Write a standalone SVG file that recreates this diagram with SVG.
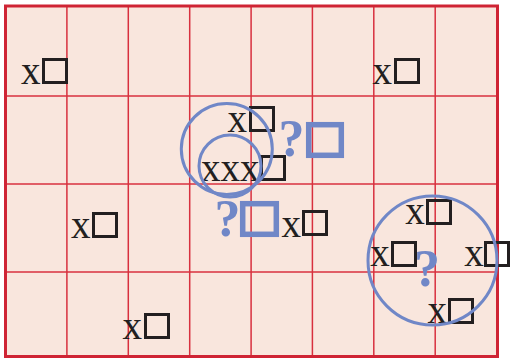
<svg xmlns="http://www.w3.org/2000/svg" width="510" height="358" viewBox="0 0 510 358">
<style>
.bg{fill:#f9e6dd}
.grid{stroke:#d8303e;stroke-width:1.5;fill:none}
.border{stroke:#cf2434;stroke-width:3;fill:none}
.x{font-family:"Liberation Serif","Times New Roman",serif;font-size:39px;fill:#231f20}
.sq{fill:none;stroke:#231f20;stroke-width:3}
.q{font-family:"Liberation Serif","Times New Roman",serif;font-size:52px;font-weight:bold;fill:#7087c7}
.bsq{fill:none;stroke:#7087c7;stroke-width:5.5}
.circ{fill:none;stroke:#7087c7;stroke-width:3}
</style>
<rect class="bg" x="5.5" y="6" width="492" height="350.5"/>
<g id="grid" class="grid">
<line x1="66.9" y1="6" x2="66.9" y2="356.5"/>
<line x1="128.3" y1="6" x2="128.3" y2="356.5"/>
<line x1="189.7" y1="6" x2="189.7" y2="356.5"/>
<line x1="251.1" y1="6" x2="251.1" y2="356.5"/>
<line x1="312.4" y1="6" x2="312.4" y2="356.5"/>
<line x1="373.8" y1="6" x2="373.8" y2="356.5"/>
<line x1="435.2" y1="6" x2="435.2" y2="356.5"/>
<line x1="5.5" y1="96" x2="497.5" y2="96"/>
<line x1="5.5" y1="184" x2="497.5" y2="184"/>
<line x1="5.5" y1="272" x2="497.5" y2="272"/>
</g>
<rect class="border" x="5.5" y="6" width="492" height="350.5"/>
<g id="n1"><text class="x" x="21" y="84">x</text><rect class="sq" x="43.5" y="59.5" width="23" height="23"/></g>
<g id="n2"><text class="x" x="372.6" y="84">x</text><rect class="sq" x="395.5" y="59.5" width="23" height="23"/></g>
<g id="n3"><text class="x" x="227.6" y="132">x</text><rect class="sq" x="250.5" y="107.5" width="23" height="23"/></g>
<g id="n4"><text class="x" x="201" y="181">xxx</text><rect class="sq" x="261.5" y="156.5" width="23" height="23"/></g>
<g id="n5"><text class="x" x="281.6" y="237">x</text><rect class="sq" x="303.5" y="211.5" width="23" height="23"/></g>
<g id="n6"><text class="x" x="71" y="238">x</text><rect class="sq" x="93.5" y="213.5" width="23" height="23"/></g>
<g id="n7"><text class="x" x="122.6" y="339">x</text><rect class="sq" x="145.5" y="314.5" width="23" height="23"/></g>
<g id="n8"><text class="x" x="405.3" y="224">x</text><rect class="sq" x="427.5" y="200.5" width="23" height="23"/></g>
<g id="n9"><text class="x" x="370.3" y="266">x</text><rect class="sq" x="392.5" y="242.5" width="23" height="23"/></g>
<g id="n10"><text class="x" x="464.3" y="266">x</text><rect class="sq" x="485.5" y="242.5" width="23" height="23"/></g>
<g id="n11"><text class="x" x="427.6" y="323">x</text><rect class="sq" x="449.5" y="299.5" width="23" height="23"/></g>
<g id="q1"><text class="q" x="278.6" y="156">?</text><rect class="bsq" x="308.7" y="124.7" width="32.6" height="30.6"/></g>
<g id="q2"><text class="q" x="214.5" y="236">?</text><rect class="bsq" x="242.7" y="203.7" width="33.6" height="30.6"/></g>
<g id="q3"><text class="q" x="414" y="286">?</text></g>
<g id="circles">
<circle class="circ" cx="226.8" cy="149" r="45.5"/>
<circle class="circ" cx="230" cy="166" r="31"/>
<circle class="circ" cx="432.5" cy="260.5" r="64.5"/>
</g>
</svg>
